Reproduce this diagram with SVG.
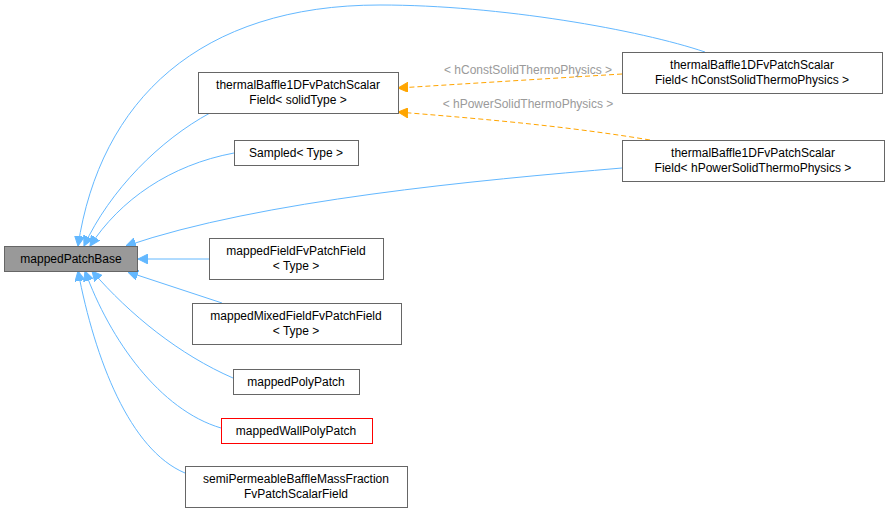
<svg xmlns="http://www.w3.org/2000/svg" width="889" height="514" viewBox="0 0 889 514">
<style>
.n rect{fill:#fff;stroke:#666;stroke-width:1}
text{font-family:"Liberation Sans",Arial,sans-serif;font-size:12px;fill:#000;text-anchor:middle}
.e{fill:none;stroke:#63b8ff;stroke-width:1}
.o{fill:none;stroke:#ffa500;stroke-width:1;stroke-dasharray:5,3}
.l{fill:#9a9a9a;font-size:12px}
</style>
<defs>
<marker id="b" viewBox="0 0 10 10" refX="10" refY="5" markerWidth="10" markerHeight="10" markerUnits="userSpaceOnUse" orient="auto"><path d="M0,0 L10,5 L0,10 z" fill="#63b8ff" stroke="#63b8ff"/></marker>
<marker id="a" viewBox="0 0 10 10" refX="10" refY="5" markerWidth="10" markerHeight="10" markerUnits="userSpaceOnUse" orient="auto"><path d="M0,0 L10,5 L0,10 z" fill="#ffa500" stroke="#ffa500"/></marker>
</defs>
<g id="edges">
<path class="e" marker-end="url(#b)" d="M705,52 C640,30 500,5 380,5 C200,5 100,100 78,246"/>
<path class="e" marker-end="url(#b)" d="M210,113 C160,140 110,190 84,246"/>
<path class="e" marker-end="url(#b)" d="M234,153 C170,165 120,200 90,246"/>
<path class="e" marker-end="url(#b)" d="M622,168 C480,180 260,200 126,246"/>
<path class="e" marker-end="url(#b)" d="M209,259 L138,259"/>
<path class="e" marker-end="url(#b)" d="M222,303 L128,272"/>
<path class="e" marker-end="url(#b)" d="M233,378 C180,355 130,315 92,271"/>
<path class="e" marker-end="url(#b)" d="M221,428 C160,410 110,340 85,271"/>
<path class="e" marker-end="url(#b)" d="M185,473 C130,450 95,360 78,271"/>
<path class="o" marker-end="url(#a)" d="M622,74 L398,88"/>
<path class="o" marker-end="url(#a)" d="M650,140 C560,125 470,118 398,112"/>
<text class="l" x="528" y="74">&lt; hConstSolidThermoPhysics &gt;</text>
<text class="l" x="528" y="108">&lt; hPowerSolidThermoPhysics &gt;</text>
</g>
<g id="mappedPatchBase" class="n"><rect x="4.5" y="246.5" width="133" height="25" style="fill:#999"/><text x="71" y="263">mappedPatchBase</text></g>
<g id="tbSolid" class="n"><rect x="198.5" y="72.5" width="200" height="41"/><text x="298" y="89">thermalBaffle1DFvPatchScalar</text><text x="298" y="104">Field&lt; solidType &gt;</text></g>
<g id="sampled" class="n"><rect x="234.5" y="140.5" width="124" height="25"/><text x="296" y="157">Sampled&lt; Type &gt;</text></g>
<g id="mappedField" class="n"><rect x="209.5" y="238.5" width="174" height="41"/><text x="296" y="255">mappedFieldFvPatchField</text><text x="296" y="270">&lt; Type &gt;</text></g>
<g id="mappedMixed" class="n"><rect x="192.5" y="303.5" width="209" height="41"/><text x="296" y="320">mappedMixedFieldFvPatchField</text><text x="296" y="335">&lt; Type &gt;</text></g>
<g id="mappedPoly" class="n"><rect x="233.5" y="369.5" width="126" height="25"/><text x="296" y="386">mappedPolyPatch</text></g>
<g id="mappedWall" class="n"><rect x="221.5" y="418.5" width="151" height="25" style="stroke:#f00"/><text x="296" y="435">mappedWallPolyPatch</text></g>
<g id="semi" class="n"><rect x="185.5" y="466.5" width="222" height="41"/><text x="296" y="483">semiPermeableBaffleMassFraction</text><text x="296" y="498">FvPatchScalarField</text></g>
<g id="tbConst" class="n"><rect x="622.5" y="52.5" width="260" height="41"/><text x="752" y="69">thermalBaffle1DFvPatchScalar</text><text x="752" y="84">Field&lt; hConstSolidThermoPhysics &gt;</text></g>
<g id="tbPower" class="n"><rect x="622.5" y="140.5" width="262" height="41"/><text x="753" y="157">thermalBaffle1DFvPatchScalar</text><text x="753" y="172">Field&lt; hPowerSolidThermoPhysics &gt;</text></g>
</svg>
